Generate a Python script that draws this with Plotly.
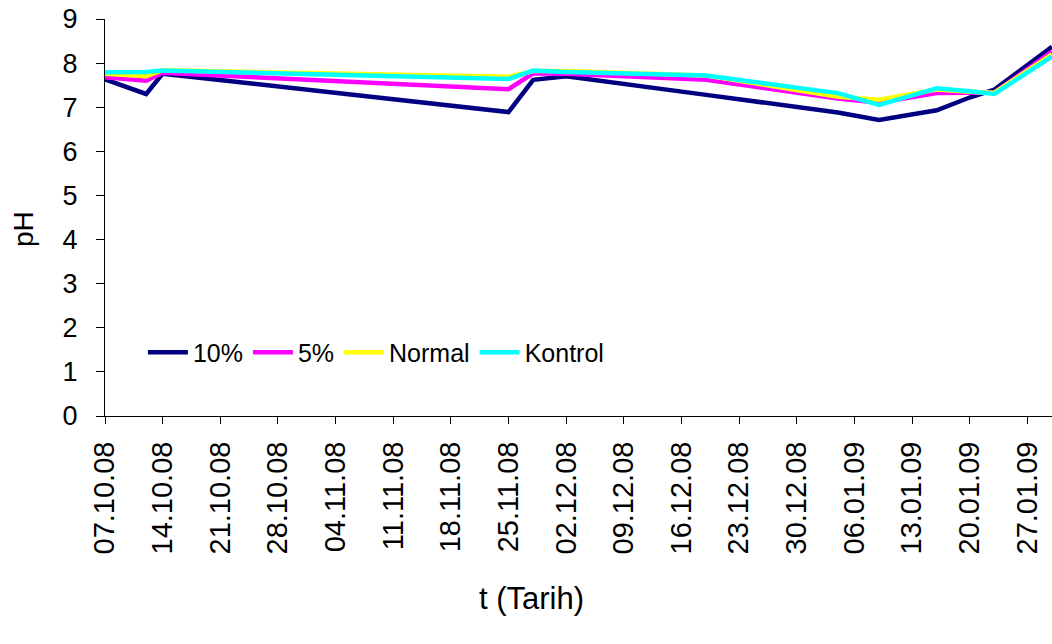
import plotly.graph_objects as go

# Sampling dates (dd.mm.yy) and measured pH per treatment
dates = ["2008-10-07", "2008-10-12", "2008-10-14", "2008-11-25", "2008-11-28",
         "2008-12-02", "2008-12-19", "2009-01-04", "2009-01-09", "2009-01-16",
         "2009-01-20", "2009-01-23", "2009-01-30"]

ph_10 = [7.63, 7.30, 7.76, 6.89, 7.62, 7.70, 7.28, 6.88, 6.71, 6.93, 7.22, 7.40, 8.37]
ph_5 = [7.68, 7.60, 7.78, 7.41, 7.77, 7.76, 7.62, 7.20, 7.10, 7.32, 7.33, 7.33, 8.26]
ph_normal = [7.76, 7.70, 7.84, 7.69, 7.82, 7.82, 7.72, 7.24, 7.17, 7.40, 7.35, 7.33, 8.20]
ph_kontrol = [7.79, 7.80, 7.83, 7.64, 7.83, 7.80, 7.72, 7.32, 7.05, 7.43, 7.36, 7.30, 8.15]

series = [
    ("10%", ph_10, "#000080"),
    ("5%", ph_5, "#FF00FF"),
    ("Normal", ph_normal, "#FFFF00"),
    ("Kontrol", ph_kontrol, "#00FFFF"),
]

FONT = "Arial, Liberation Sans, sans-serif"

fig = go.Figure()
for name, values, color in series:
    fig.add_trace(go.Scatter(
        x=dates, y=values, name=name, mode="lines",
        line=dict(color=color, width=4.5),
    ))

fig.update_layout(
    width=1052, height=644,
    margin=dict(l=105, r=0, t=19, b=228),
    paper_bgcolor="white", plot_bgcolor="white",
    font=dict(family=FONT, size=25, color="black"),
    showlegend=True,
    legend=dict(
        orientation="h", x=0.04, y=0.16, xanchor="left", yanchor="middle",
        font=dict(size=25), itemwidth=40, bgcolor="rgba(0,0,0,0)",
        tracegroupgap=0,
    ),
    xaxis=dict(
        type="date",
        range=["2008-10-07", "2009-01-30"],
        tick0="2008-10-07", dtick=7 * 86400000,
        tickformat="%d.%m.%y", tickangle=-90,
        ticks="outside", ticklen=7, tickcolor="black", tickwidth=1,
        ticklabelstandoff=6,
        showline=True, linecolor="black", linewidth=1,
        showgrid=False, zeroline=False,
        tickfont=dict(size=29),
    ),
    yaxis=dict(
        range=[0, 9], dtick=1,
        ticks="outside", ticklen=8, tickcolor="black", tickwidth=1,
        ticklabelstandoff=13,
        showline=True, linecolor="black", linewidth=1,
        showgrid=False, zeroline=False,
        tickfont=dict(size=27),
    ),
    annotations=[
        dict(text="t (Tarih)", xref="paper", yref="paper",
             x=(531 - 105) / 947, y=-0.46, xanchor="center", yanchor="middle",
             showarrow=False, font=dict(size=31)),
        dict(text="pH", xref="paper", yref="paper",
             x=-0.086, y=0.47, xanchor="center", yanchor="middle",
             textangle=-90, showarrow=False, font=dict(size=28)),
    ],
)

fig.write_html("out.html")
